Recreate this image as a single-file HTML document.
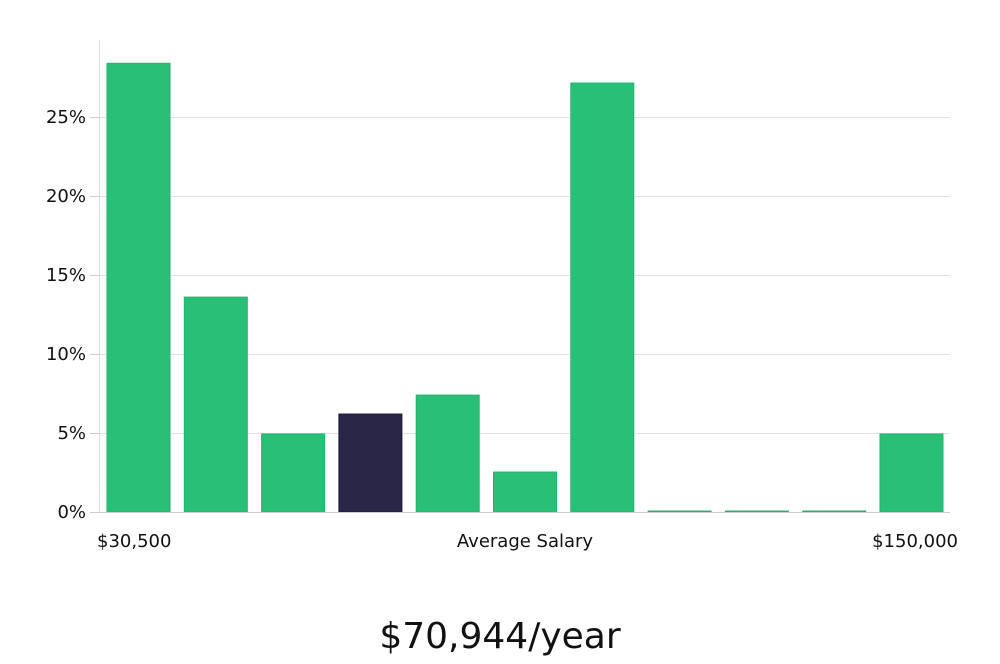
<!DOCTYPE html>
<html><head><meta charset="utf-8">
<style>
body{margin:0;background:#fff;width:1000px;height:660px;overflow:hidden;font-family:"DejaVu Sans","Liberation Sans",sans-serif;}
svg text{font-family:"DejaVu Sans","Liberation Sans",sans-serif;}
</style></head>
<body>
<svg id="chart" width="1000" height="660" xmlns="http://www.w3.org/2000/svg">
<g id="grid"></g><g id="bars"></g><g id="yaxis"></g>
<line x1="99.5" y1="40" x2="99.5" y2="512" stroke="#dddddd"/>
<line x1="90" y1="512.5" x2="950" y2="512.5" stroke="#cccccc"/>
<text x="97" y="547" font-size="18" fill="#111">$30,500</text>
<text x="525" y="547" font-size="18" fill="#111" text-anchor="middle">Average Salary</text>
<text x="958" y="547" font-size="18" fill="#111" text-anchor="end">$150,000</text>
<text x="500" y="648" font-size="36" fill="#111" text-anchor="middle" font-family="Liberation Sans, sans-serif">$70,944/year</text>
</svg>
<script>
const values=[28.4,13.6,4.94,6.2,7.4,2.53,27.15,0,0,0,4.94];
const highlight=[false,false,false,true,false,false,false,false,false,false,false];
const yTicks=[0,5,10,15,20,25];
const yTickLabels=["0%","5%","10%","15%","20%","25%"];
const NS="http://www.w3.org/2000/svg";
const y0=512,pxPer=15.8,xStart=107,step=77.3,bw=63;
const y=v=>y0-v*pxPer;
const x=i=>xStart+i*step;
const grid=document.getElementById('grid'),ya=document.getElementById('yaxis'),bars=document.getElementById('bars');
yTicks.forEach((t,i)=>{
 if(t>0){const l=document.createElementNS(NS,'line');
 
 
 l.setAttribute('x1',100);l.setAttribute('x2',950);l.setAttribute('y1',Math.round(y(t))+0.5);l.setAttribute('y2',Math.round(y(t))+0.5);l.setAttribute('stroke','#e2e2e2');grid.appendChild(l);}
 const k=document.createElementNS(NS,'line');
 
 
 k.setAttribute('x1',90);k.setAttribute('x2',100);k.setAttribute('y1',Math.round(y(t))+0.5);k.setAttribute('y2',Math.round(y(t))+0.5);k.setAttribute('stroke','#ccc');ya.appendChild(k);
 const tx=document.createElementNS(NS,'text');
 
 
 tx.setAttribute('x',86);tx.setAttribute('y',y(t)+6);tx.setAttribute('text-anchor','end');tx.setAttribute('font-size','18');tx.setAttribute('fill','#111');tx.textContent=yTickLabels[i];ya.appendChild(tx);
});
values.forEach((v,i)=>{
 const r=document.createElementNS(NS,'rect');
 
 
 const h=Math.max(v*pxPer,1);
 r.setAttribute('x',x(i));r.setAttribute('y',y0-h);r.setAttribute('width',bw);r.setAttribute('height',h);
 r.setAttribute('fill',highlight[i]?'#2a2647':'#2abf76');
 r.setAttribute('stroke',highlight[i]?'#1c1836':'#22b56c');r.setAttribute('stroke-width','1');
 bars.appendChild(r);
});
</script>
</body></html>
